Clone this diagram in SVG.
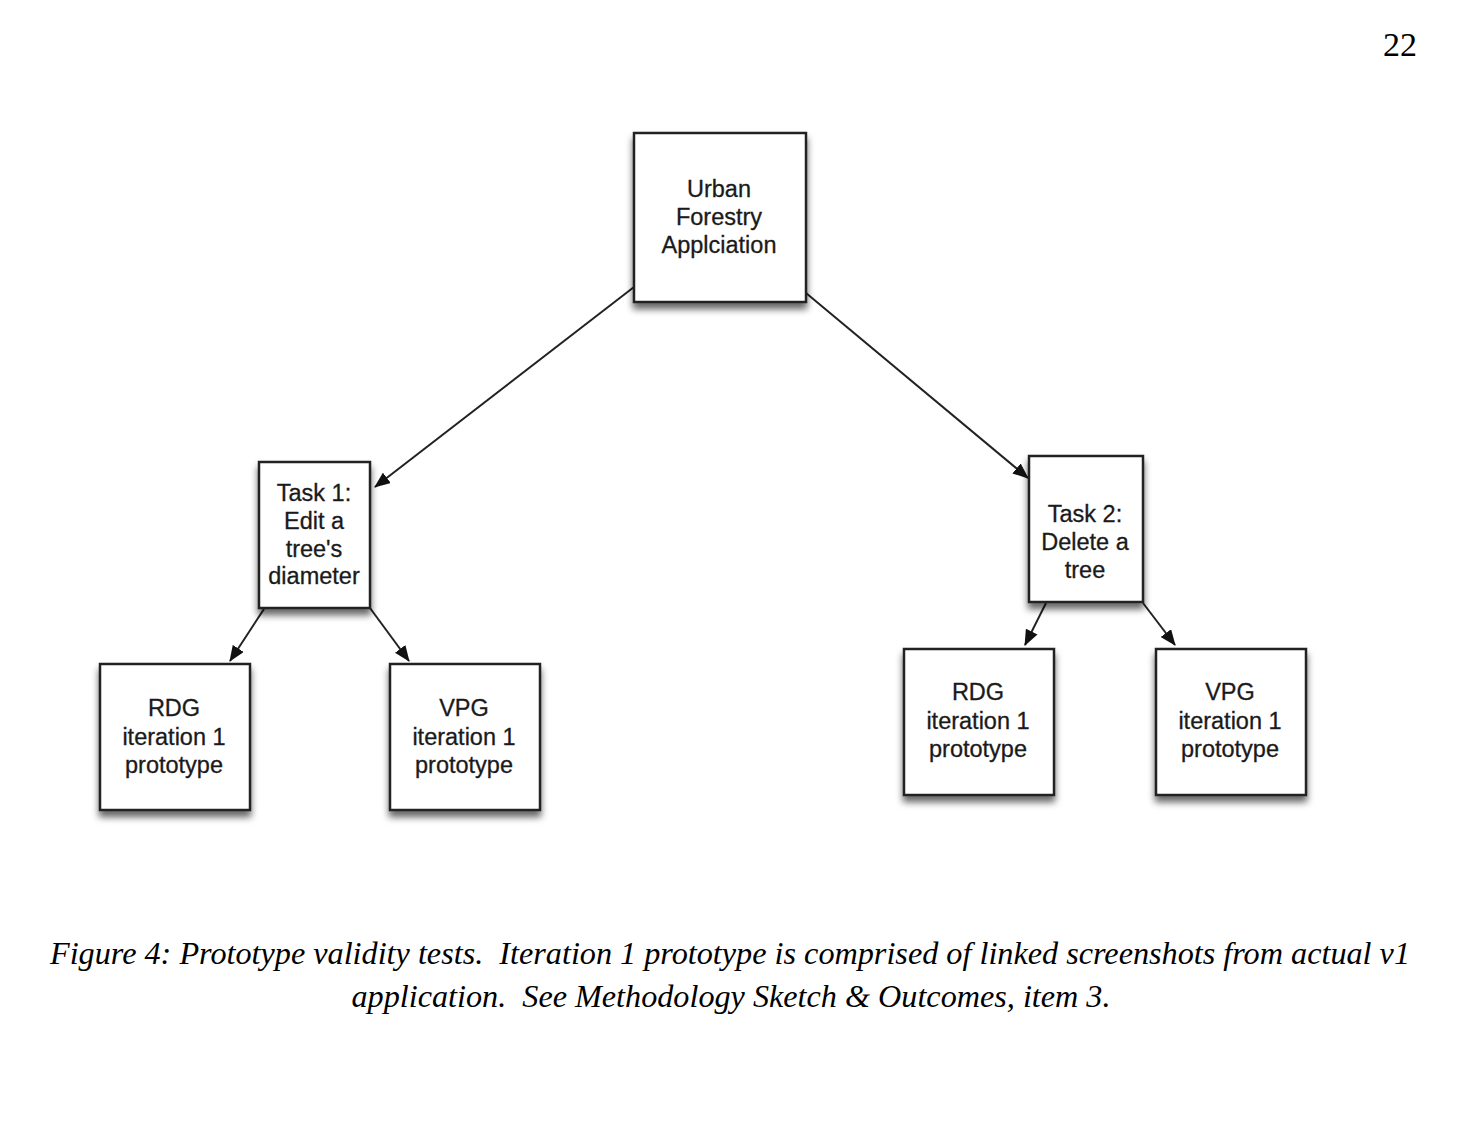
<svg xmlns="http://www.w3.org/2000/svg" width="1476" height="1138" viewBox="0 0 1476 1138">
<style>
.box{fill:#fff;stroke:#222;stroke-width:2.5;filter:url(#sh)}
.lbl{font-family:"Liberation Sans",Arial,sans-serif;font-size:23.5px;fill:#1a1a1a;stroke:#1a1a1a;stroke-width:0.3;text-anchor:middle}
.edge{stroke:#222;stroke-width:2;fill:none;marker-end:url(#ah)}
.cap{font-family:"Liberation Serif","Times New Roman",serif;font-style:italic;font-size:32px;fill:#000;text-anchor:middle}
.pg{font-family:"Liberation Serif","Times New Roman",serif;font-size:34px;fill:#000;text-anchor:end}
</style>
<defs>
<filter id="sh" x="-20%" y="-20%" width="140%" height="150%">
<feDropShadow dx="0" dy="6" stdDeviation="3.5" flood-color="#000" flood-opacity="0.6"/>
</filter>
<marker id="ah" markerWidth="16" markerHeight="13" refX="15" refY="6.5" orient="auto" markerUnits="userSpaceOnUse">
<path d="M0,0 L16,6.5 L0,13 z" fill="#111"/>
</marker>
</defs>
<rect width="1476" height="1138" fill="#fff"/>
<text class="pg" x="1417" y="56">22</text>
<g id="connectors">
<line class="edge" x1="634" y1="287" x2="375" y2="487"/>
<line class="edge" x1="806" y1="293" x2="1028" y2="478"/>
<line class="edge" x1="264" y1="609" x2="230" y2="661"/>
<line class="edge" x1="370" y1="608" x2="409" y2="661"/>
<line class="edge" x1="1046" y1="603" x2="1025" y2="645"/>
<line class="edge" x1="1143" y1="603" x2="1175" y2="645"/>
</g>
<g id="root">
<rect class="box" x="634" y="133" width="172" height="169"/>
<text class="lbl" x="719" y="197">Urban</text>
<text class="lbl" x="719" y="225">Forestry</text>
<text class="lbl" x="719" y="253">Applciation</text>
</g>
<g id="task1">
<rect class="box" x="259" y="462" width="111" height="146"/>
<text class="lbl" x="314" y="501">Task 1:</text>
<text class="lbl" x="314" y="529">Edit a</text>
<text class="lbl" x="314" y="557">tree's</text>
<text class="lbl" x="314" y="584">diameter</text>
</g>
<g id="task2">
<rect class="box" x="1029" y="456" width="114" height="146"/>
<text class="lbl" x="1085" y="522">Task 2:</text>
<text class="lbl" x="1085" y="550">Delete a</text>
<text class="lbl" x="1085" y="578">tree</text>
</g>
<g id="rdg1">
<rect class="box" x="100" y="664" width="150" height="146"/>
<text class="lbl" x="174" y="716">RDG</text>
<text class="lbl" x="174" y="745">iteration 1</text>
<text class="lbl" x="174" y="773">prototype</text>
</g>
<g id="vpg1">
<rect class="box" x="390" y="664" width="150" height="146"/>
<text class="lbl" x="464" y="716">VPG</text>
<text class="lbl" x="464" y="745">iteration 1</text>
<text class="lbl" x="464" y="773">prototype</text>
</g>
<g id="rdg2">
<rect class="box" x="904" y="649" width="150" height="146"/>
<text class="lbl" x="978" y="700">RDG</text>
<text class="lbl" x="978" y="729">iteration 1</text>
<text class="lbl" x="978" y="757">prototype</text>
</g>
<g id="vpg2">
<rect class="box" x="1156" y="649" width="150" height="146"/>
<text class="lbl" x="1230" y="700">VPG</text>
<text class="lbl" x="1230" y="729">iteration 1</text>
<text class="lbl" x="1230" y="757">prototype</text>
</g>
<text class="cap" x="730" y="964" xml:space="preserve" textLength="1360" lengthAdjust="spacingAndGlyphs">Figure 4: Prototype validity tests.  Iteration 1 prototype is comprised of linked screenshots from actual v1</text>
<text class="cap" x="731" y="1007" xml:space="preserve" textLength="759" lengthAdjust="spacingAndGlyphs">application.  See Methodology Sketch &amp; Outcomes, item 3.</text>
</svg>
